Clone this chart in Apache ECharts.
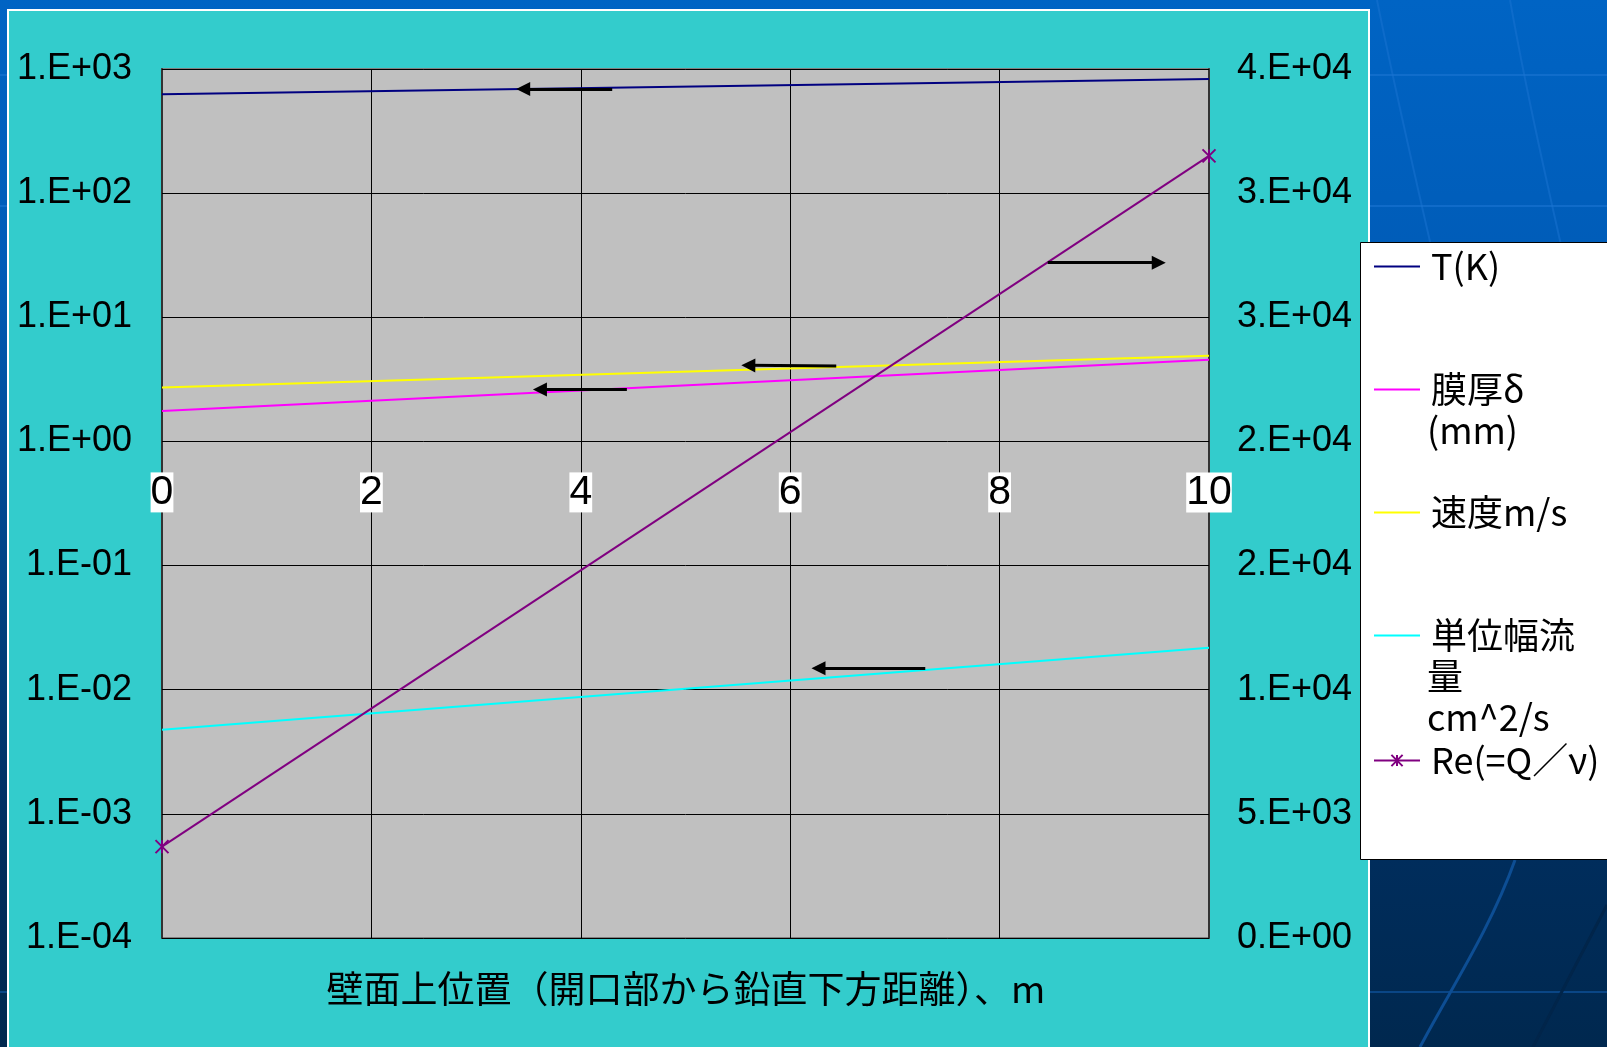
<!DOCTYPE html>
<html>
<head>
<meta charset="utf-8">
<script src="https://cdn.jsdelivr.net/npm/echarts@6/dist/echarts.min.js"></script>
<style>
  html, body { margin: 0; padding: 0; width: 1607px; height: 1047px; overflow: hidden;
    background: linear-gradient(180deg, #0064c4 0%, #005cb8 25%, #003e7c 60%, #002d5c 82%, #00284f 100%); }
  #chart { width: 1607px; height: 1047px; }
</style>
</head>
<body>
<div id="chart"></div>
<script>
// Position on the wall, measured downward from the opening (m)
const positions = [0, 10];

// Left (log) axis quantities
const temperatureK = [625, 830];
const filmThicknessMm = [1.76, 4.55];
const velocity = [2.72, 4.91];
const flowPerWidth = [0.00476, 0.0218];

// Right (linear) axis quantity
const reynolds = [3680, 31500];

const seriesNames = ['T(K)', '膜厚δ\n(mm)', '速度m/s', '単位幅流\n量\ncm^2/s', 'Re(=Q／ν)'];
const xTickLabels = ['0', '2', '4', '6', '8', '10'];
const leftTickLabels = ['1.E-04', '1.E-03', '1.E-02', '1.E-01', '1.E+00', '1.E+01', '1.E+02', '1.E+03'];
const rightTickLabels = ['0.E+00', '5.E+03', '1.E+04', '2.E+04', '2.E+04', '3.E+04', '3.E+04', '4.E+04'];

// Arrows telling which axis each curve is read against: [from, to] in data units
const arrowTemperature = [[4.30, 690], [3.45, 690]];
const arrowVelocity = [[6.44, 4.05], [5.60, 4.1]];
const arrowFilm = [[4.44, 2.62], [3.61, 2.62]];
const arrowFlow = [[7.29, 0.0149], [6.27, 0.0149]];
const arrowReynolds = [[8.46, 27200], [9.52, 27200]];

const latin = '"Liberation Sans", Arial, sans-serif';
const cjk = '"Noto Sans CJK JP", "Noto Sans", sans-serif';

function pairs(ys) { return positions.map((x, i) => [x, ys[i]]); }

function arrow(fromTo) {
  return {
    silent: true,
    animation: false,
    symbol: ['none', 'triangle'],
    symbolSize: [14, 14],
    lineStyle: { color: '#000', width: 3, type: 'solid' },
    label: { show: false },
    emphasis: { disabled: true },
    data: [[{ coord: fromTo[0] }, { coord: fromTo[1] }]]
  };
}

function line(name, ys, color, fromTo) {
  return {
    type: 'line', name, data: pairs(ys), yAxisIndex: 0,
    showSymbol: false, symbol: 'none',
    color, lineStyle: { color, width: 2 },
    markLine: arrow(fromTo)
  };
}

// Legend entries: the swatch sits beside the first line of each name,
// the remaining lines are set underneath as plain text.
const lineH = 41;
const legendLeft = 1373;
const legendTextX = 1427;
const legendRows = [266.5, 389.5, 512.5, 635.5, 760.5];

function legendAt(idx, withMarker) {
  return {
    data: [seriesNames[idx]],
    left: legendLeft,
    top: legendRows[idx] - lineH / 2,
    orient: 'vertical',
    padding: 0,
    itemWidth: 46,
    itemHeight: 14,
    selectedMode: false,
    itemStyle: withMarker ? {} : { opacity: 0 },
    formatter: n => n.split('\n')[0],
    textStyle: { fontFamily: cjk, fontSize: 36, lineHeight: lineH, color: '#000', padding: [0, 0, 0, 6] }
  };
}

function legendContinuation() {
  const out = [];
  seriesNames.forEach((n, idx) => {
    n.split('\n').slice(1).forEach((txt, k) => {
      out.push({
        type: 'text', z: 5, x: legendTextX, y: legendRows[idx] + (k + 1) * lineH,
        style: { text: txt, font: '36px ' + cjk, fill: '#000', textAlign: 'left', textVerticalAlign: 'middle' }
      });
    });
  });
  return out;
}

const chart = echarts.init(document.getElementById('chart'), null, { renderer: 'canvas' });

chart.setOption({
  animation: false,
  backgroundColor: 'transparent',
  graphic: [
    // faint template strokes behind the panel
    { type: 'line', z: -30, shape: { x1: 0, y1: 75, x2: 1607, y2: 75 }, style: { stroke: '#1a74d2', lineWidth: 2, opacity: 0.6 } },
    { type: 'line', z: -30, shape: { x1: 0, y1: 206, x2: 1607, y2: 206 }, style: { stroke: '#1a74d2', lineWidth: 2, opacity: 0.6 } },
    { type: 'line', z: -30, shape: { x1: 0, y1: 992, x2: 1607, y2: 992 }, style: { stroke: '#0d4e94', lineWidth: 2, opacity: 0.8 } },
    { type: 'bezierCurve', z: -30, shape: { x1: 1377, y1: 0, x2: 1470, y2: 420, cpx1: 1405, cpy1: 140, cpx2: 1440, cpy2: 280 }, style: { stroke: '#1a74d2', lineWidth: 2, fill: null, opacity: 0.5 } },
    { type: 'bezierCurve', z: -30, shape: { x1: 1510, y1: 0, x2: 1600, y2: 420, cpx1: 1535, cpy1: 140, cpx2: 1570, cpy2: 280 }, style: { stroke: '#1a74d2', lineWidth: 2, fill: null, opacity: 0.5 } },
    { type: 'bezierCurve', z: -30, shape: { x1: 1515, y1: 860, x2: 1420, y2: 1047, cpx1: 1490, cpy1: 930, cpx2: 1450, cpy2: 990 }, style: { stroke: '#0d4e94', lineWidth: 3, fill: null } },
    { type: 'line', z: -30, shape: { x1: 1607, y1: 905, x2: 1533, y2: 1047 }, style: { stroke: '#01254a', lineWidth: 3 } },
    // chart panel
    { type: 'rect', z: -20, shape: { x: 8, y: 10, width: 1361, height: 1060 },
      style: { fill: '#33cccc', stroke: '#ffffff', lineWidth: 2 } },
    // legend frame
    { type: 'rect', z: 1, shape: { x: 1360.5, y: 242.5, width: 270, height: 617 },
      style: { fill: '#ffffff', stroke: '#000000', lineWidth: 1 } },
    // horizontal axis title
    { type: 'text', z: 5, x: 686, y: 989,
      style: { text: '壁面上位置（開口部から鉛直下方距離）、m', font: '37px ' + cjk, fill: '#000',
               textAlign: 'center', textVerticalAlign: 'middle' } }
  ].concat(legendContinuation()),
  legend: [
    legendAt(0, false),
    legendAt(1, false),
    legendAt(2, false),
    legendAt(3, false),
    legendAt(4, true)
  ],
  grid: {
    left: 162, right: 398, top: 69, bottom: 109,
    show: true, backgroundColor: '#c0c0c0', borderColor: '#808080', borderWidth: 2
  },
  xAxis: {
    type: 'value', min: 0, max: 10, interval: 2,
    position: 'bottom',
    offset: -(938 - 441.4),
    axisLine: { show: false },
    axisTick: { show: false },
    axisLabel: {
      margin: 31, fontFamily: latin, fontSize: 41, lineHeight: 40, color: '#000',
      backgroundColor: '#ffffff', padding: [0, 0, 0, 0],
      formatter: v => xTickLabels[Math.round(v / 2)]
    },
    splitLine: { show: true, lineStyle: { color: '#000', width: 1 } }
  },
  yAxis: [
    {
      type: 'log', logBase: 10, min: 1e-4, max: 1e3, splitNumber: 7,
      position: 'left',
      axisLine: { show: true, lineStyle: { color: '#333', width: 2 } },
      axisTick: { show: true, inside: true, length: 12, lineStyle: { color: '#000', width: 1 } },
      minorTick: { show: false },
      axisLabel: {
        margin: 30, fontFamily: latin, fontSize: 36, color: '#000',
        formatter: v => leftTickLabels[Math.round(Math.log10(v)) + 4]
      },
      splitLine: { show: true, lineStyle: { color: '#000', width: 1 } }
    },
    {
      type: 'value', min: 0, max: 35000, interval: 5000,
      position: 'right',
      axisLine: { show: true, lineStyle: { color: '#333', width: 2 } },
      axisTick: { show: true, inside: true, length: 12, lineStyle: { color: '#000', width: 1 } },
      axisLabel: {
        margin: 28, fontFamily: latin, fontSize: 36, color: '#000',
        formatter: v => rightTickLabels[Math.round(v / 5000)]
      },
      splitLine: { show: false }
    }
  ],
  series: [
    line(seriesNames[0], temperatureK, '#000080', arrowTemperature),
    line(seriesNames[1], filmThicknessMm, '#ff00ff', arrowFilm),
    line(seriesNames[2], velocity, '#ffff00', arrowVelocity),
    line(seriesNames[3], flowPerWidth, '#00ffff', arrowFlow),
    {
      type: 'line', name: seriesNames[4], data: pairs(reynolds), yAxisIndex: 1,
      color: '#800080',
      symbol: 'path://M0,0L10,10M10,0L0,10M5,0L5,10',
      symbolSize: 13, showSymbol: true,
      itemStyle: { color: 'rgba(0,0,0,0)', borderColor: '#800080', borderWidth: 2 },
      lineStyle: { color: '#800080', width: 2 },
      markLine: arrow(arrowReynolds)
    }
  ]
});
</script>
</body>
</html>
